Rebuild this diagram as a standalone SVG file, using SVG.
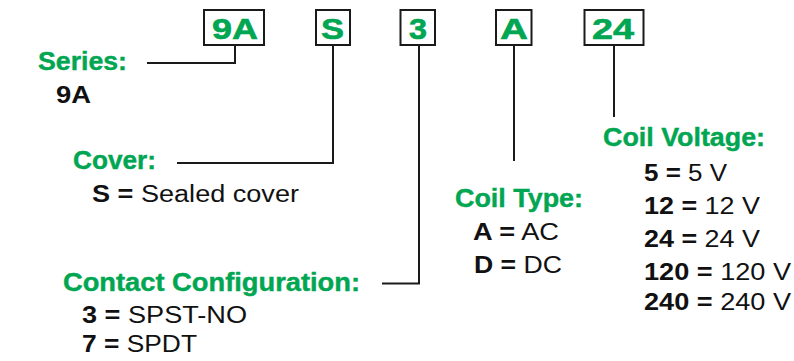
<svg xmlns="http://www.w3.org/2000/svg" width="794" height="361" viewBox="0 0 794 361">
<style>
text{font-family:"Liberation Sans",Arial,sans-serif}
.box{fill:#fff;stroke:#1a1a1a;stroke-width:2}
.code{font-size:30px;font-weight:bold;fill:#00a651;stroke:#00a651;stroke-width:0.6;text-anchor:middle}
.hd{font-size:25px;font-weight:bold;fill:#00a651;stroke:#00a651;stroke-width:0.4}
.bd{font-size:23px;fill:#111}
.b{font-weight:bold}
.ln{fill:none;stroke:#1a1a1a;stroke-width:2}
</style>
<rect width="794" height="361" fill="#fff"/>
<g id="connectors">
<polyline class="ln" points="235,46 235,63 147,63"/>
<polyline class="ln" points="333,46 333,163 177,163"/>
<polyline class="ln" points="419,46 419,283.5 382,283.5"/>
<polyline class="ln" points="514,46 514,161"/>
<polyline class="ln" points="614,46 614,117"/>
</g>
<g id="code-9A"><rect class="box" x="204" y="10" width="60" height="35"/><text class="code" x="235" y="38.5" textLength="46" lengthAdjust="spacingAndGlyphs">9A</text></g>
<g id="code-S"><rect class="box" x="316" y="10" width="34" height="35"/><text class="code" x="332.5" y="38.5" textLength="23" lengthAdjust="spacingAndGlyphs">S</text></g>
<g id="code-3"><rect class="box" x="400.5" y="10" width="34.5" height="35"/><text class="code" x="418" y="38.5" textLength="18" lengthAdjust="spacingAndGlyphs">3</text></g>
<g id="code-A"><rect class="box" x="496" y="10" width="35.5" height="35"/><text class="code" x="514" y="38.5" textLength="28" lengthAdjust="spacingAndGlyphs">A</text></g>
<g id="code-24"><rect class="box" x="584.5" y="10" width="59" height="35"/><text class="code" x="613" y="38.5" textLength="42" lengthAdjust="spacingAndGlyphs">24</text></g>
<g id="series">
<text class="hd" x="38" y="70" textLength="89" lengthAdjust="spacingAndGlyphs">Series:</text>
<text class="bd b" x="56" y="103" textLength="35" lengthAdjust="spacingAndGlyphs">9A</text>
</g>
<g id="cover">
<text class="hd" x="73" y="169" textLength="83" lengthAdjust="spacingAndGlyphs">Cover:</text>
<text class="bd" x="92" y="202" textLength="207" lengthAdjust="spacingAndGlyphs"><tspan class="b">S =</tspan> Sealed cover</text>
</g>
<g id="contact">
<text class="hd" x="63" y="291" textLength="297" lengthAdjust="spacingAndGlyphs">Contact Configuration:</text>
<text class="bd" x="82" y="323" textLength="165" lengthAdjust="spacingAndGlyphs"><tspan class="b">3 =</tspan> SPST-NO</text>
<text class="bd" x="82" y="352" textLength="115" lengthAdjust="spacingAndGlyphs"><tspan class="b">7 =</tspan> SPDT</text>
</g>
<g id="coil-type">
<text class="hd" x="455" y="207" textLength="128" lengthAdjust="spacingAndGlyphs">Coil Type:</text>
<text class="bd" x="473" y="240" textLength="86" lengthAdjust="spacingAndGlyphs"><tspan class="b">A =</tspan> AC</text>
<text class="bd" x="474" y="273" textLength="88" lengthAdjust="spacingAndGlyphs"><tspan class="b">D =</tspan> DC</text>
</g>
<g id="coil-voltage">
<text class="hd" x="603" y="146" textLength="162" lengthAdjust="spacingAndGlyphs">Coil Voltage:</text>
<text class="bd" x="644" y="180.5" textLength="83" lengthAdjust="spacingAndGlyphs"><tspan class="b">5 =</tspan> 5 V</text>
<text class="bd" x="644" y="213.5" textLength="116" lengthAdjust="spacingAndGlyphs"><tspan class="b">12 =</tspan> 12 V</text>
<text class="bd" x="644" y="246.5" textLength="116" lengthAdjust="spacingAndGlyphs"><tspan class="b">24 =</tspan> 24 V</text>
<text class="bd" x="644" y="279.5" textLength="147" lengthAdjust="spacingAndGlyphs"><tspan class="b">120 =</tspan> 120 V</text>
<text class="bd" x="644" y="310" textLength="147" lengthAdjust="spacingAndGlyphs"><tspan class="b">240 =</tspan> 240 V</text>
</g>
</svg>
